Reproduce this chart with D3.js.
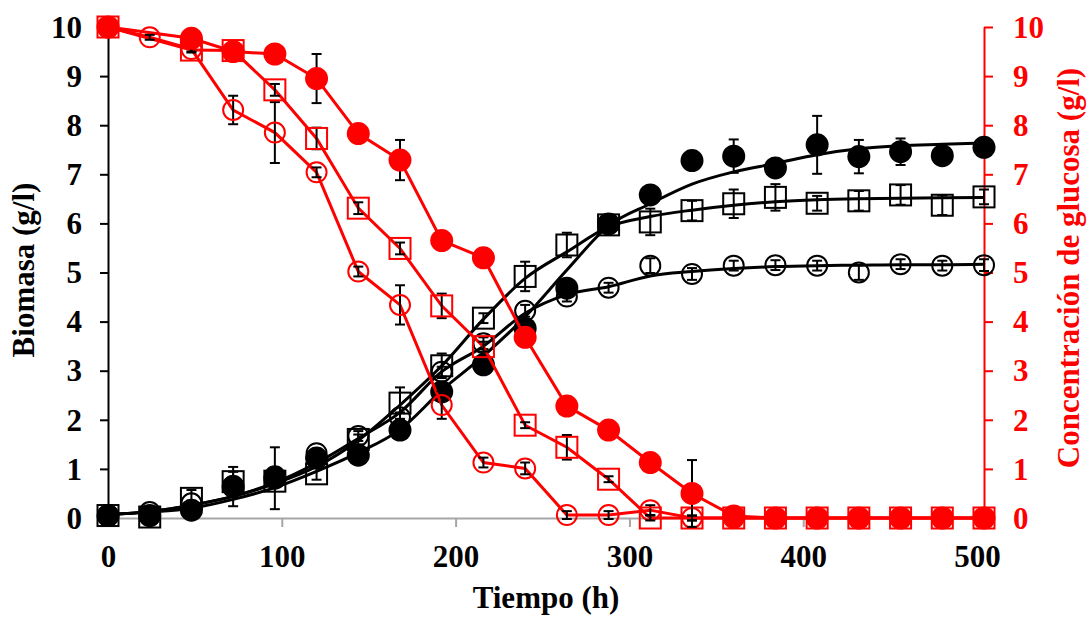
<!DOCTYPE html>
<html><head><meta charset="utf-8">
<script src="https://cdn.jsdelivr.net/npm/d3@7"></script>
<style>
body{margin:0;background:#fff}
svg{display:block}
text{font-family:"Liberation Serif","Times New Roman",serif;font-weight:bold}
</style>
</head><body>
<svg id="c" width="1089" height="617"></svg>
<script>
const times = [0,24,48,72,96,120,144,168,192,216,240,264,288,312,336,360,384,408,432,456,480,504];
const xTicks = [0,100,200,300,400,500];
const yTicks = [0,1,2,3,4,5,6,7,8,9,10];

// Biomass (left axis)
const bioFilled    = [0.05,0.05,0.16,0.64,0.81,1.22,1.28,1.79,2.57,3.12,3.86,4.68,5.99,6.58,7.28,7.37,7.13,7.60,7.36,7.46,7.38,7.55];
const bioFilledErr = [0.02,0.03,0.05,0.40,0.63,0.10,0.08,0.10,0.10,0.10,0.10,0.10,0.05,0.05,0.05,0.34,0.05,0.59,0.34,0.27,0.05,0.10];
const bioSquare    = [0.05,0.02,0.40,0.74,0.75,0.90,1.60,2.34,3.10,4.07,4.92,5.56,5.97,6.03,6.26,6.40,6.53,6.41,6.46,6.58,6.37,6.54];
const bioSquareErr = [0.02,0.02,0.17,0.20,0.10,0.12,0.10,0.32,0.25,0.10,0.30,0.25,0.10,0.27,0.20,0.29,0.27,0.15,0.20,0.20,0.20,0.15];
const bioCircle    = [0.05,0.12,0.30,0.65,0.85,1.32,1.67,2.05,2.98,3.56,4.22,4.51,4.69,5.14,4.97,5.14,5.15,5.14,5.00,5.17,5.14,5.15];
const bioCircleErr = [0.02,0.03,0.05,0.05,0.05,0.05,0.10,0.10,0.10,0.12,0.12,0.10,0.10,0.15,0.12,0.10,0.10,0.10,0.15,0.10,0.10,0.12];

// Fitted biomass curves
const fitFilled = [0.07,0.12,0.20,0.38,0.62,0.95,1.33,1.80,2.60,3.30,4.10,5.05,5.95,6.40,6.80,7.05,7.22,7.40,7.52,7.58,7.61,7.64];
const fitSquare = [0.07,0.13,0.26,0.44,0.70,1.05,1.58,2.30,3.10,4.05,4.88,5.42,5.93,6.14,6.27,6.37,6.44,6.48,6.50,6.51,6.52,6.53];
const fitCircle = [0.07,0.13,0.26,0.44,0.72,1.12,1.62,2.15,2.98,3.50,4.17,4.55,4.71,4.93,5.02,5.08,5.12,5.14,5.15,5.16,5.16,5.17];

// Glucose (right axis)
const gluFilled    = [10,null,9.77,9.50,9.45,8.95,7.83,7.29,5.65,5.30,3.68,2.28,1.79,1.13,0.50,0.04,0,0,0,0,0,0];
const gluFilledErr = [0,0,0.05,0.05,0.05,0.50,0.05,0.41,0.05,0.05,0.05,0.05,0.05,0.05,0.68,0,0,0,0,0,0,0];
const gluSquare    = [10,null,9.53,9.52,8.72,7.73,6.31,5.49,4.32,3.49,1.89,1.44,0.79,0,0,0,0,0,0,0,0,0];
const gluSquareErr = [0,0,0.05,0.05,0.12,0.22,0.12,0.12,0.25,0.10,0.06,0.25,0.06,0.05,0.05,0,0,0,0,0,0,0];
const gluCircle    = [10,9.79,9.55,8.31,7.85,7.04,5.02,4.34,2.30,1.13,1.01,0.06,0.06,0.16,0,0,0,0,0,0,0,0];
const gluCircleErr = [0,0.05,0.05,0.29,0.62,0.10,0.10,0.40,0.28,0.10,0.12,0.08,0.08,0.10,0.05,0,0,0,0,0,0,0];

const svg = d3.select("#c");
const x = d3.scaleLinear().domain([0,504]).range([108,984]);
const yL = d3.scaleLinear().domain([0,10]).range([518,27]);
const yR = d3.scaleLinear().domain([0,10]).range([518,27]);
const RED = "#ff0000";
const FS = 31;

// x axis
const xa = svg.append("g").attr("transform","translate(0,518)")
  .call(d3.axisBottom(x).tickValues(xTicks).tickSize(9).tickFormat(d3.format("d")));
xa.select(".domain").attr("stroke","#a6a6a6").attr("stroke-width",2);
xa.selectAll(".tick line").attr("stroke","#a6a6a6").attr("stroke-width",2);
xa.selectAll(".tick text").attr("fill","#000").attr("font-size",FS).attr("y",49).attr("dy",0)
  .attr("font-family","Liberation Serif").attr("font-weight","bold");

// left axis
const la = svg.append("g").attr("transform","translate(108,0)")
  .call(d3.axisLeft(yL).tickValues(yTicks).tickSize(8).tickPadding(18).tickSizeOuter(0));
la.select(".domain").attr("stroke","#000").attr("stroke-width",2);
la.selectAll(".tick line").attr("stroke","#000").attr("stroke-width",2);
la.selectAll(".tick text").attr("fill","#000").attr("font-size",FS).attr("dy","0.33em")
  .attr("font-family","Liberation Serif").attr("font-weight","bold");

// right axis
const ra = svg.append("g").attr("transform","translate(984,0)")
  .call(d3.axisRight(yR).tickValues(yTicks).tickSize(9).tickPadding(20).tickSizeOuter(0));
ra.select(".domain").attr("stroke",RED).attr("stroke-width",2);
ra.selectAll(".tick line").attr("stroke",RED).attr("stroke-width",2);
ra.selectAll(".tick text").attr("fill",RED).attr("font-size",FS).attr("dy","0.33em")
  .attr("font-family","Liberation Serif").attr("font-weight","bold");

// titles
svg.append("text").attr("x",546).attr("y",608).attr("text-anchor","middle")
  .attr("font-size",FS).attr("fill","#000").text("Tiempo (h)");
svg.append("text").attr("transform","translate(34,270) rotate(-90)").attr("text-anchor","middle")
  .attr("font-size",FS).attr("fill","#000").text("Biomasa (g/l)");
svg.append("text").attr("transform","translate(1079,268) rotate(-90)").attr("text-anchor","middle")
  .attr("font-size",FS).attr("fill",RED).text("Concentración de glucosa (g/l)");

function pts(vals, errs){
  return times.map((t,i)=>({t, v:vals[i], e:errs?errs[i]:0})).filter(d=>d.v!==null);
}

// fitted curves
const fitLine = d3.line().x(d=>x(d.t)).y(d=>yL(d.v)).curve(d3.curveMonotoneX);
[fitFilled, fitSquare, fitCircle].forEach(f=>{
  svg.append("path").datum(pts(f)).attr("d",fitLine)
    .attr("fill","none").attr("stroke","#000").attr("stroke-width",3);
});

function errorBars(data, y){
  const g = svg.append("g").attr("stroke","#000").attr("stroke-width",2);
  data.filter(d=>d.e>0).forEach(d=>{
    const cx = x(d.t), y1 = y(d.v+d.e), y2 = y(d.v-d.e);
    g.append("line").attr("x1",cx).attr("x2",cx).attr("y1",y1).attr("y2",y2);
    g.append("line").attr("x1",cx-5).attr("x2",cx+5).attr("y1",y1).attr("y2",y1);
    g.append("line").attr("x1",cx-5).attr("x2",cx+5).attr("y1",y2).attr("y2",y2);
  });
}
function squares(data, y, color){
  errorBars(data, y);
  svg.append("g").selectAll("rect").data(data).join("rect")
    .attr("x",d=>x(d.t)-10.5).attr("y",d=>y(d.v)-10.5).attr("width",21).attr("height",21)
    .attr("fill","none").attr("stroke",color).attr("stroke-width",2);
}
function openCircles(data, y, color){
  errorBars(data, y);
  svg.append("g").selectAll("circle").data(data).join("circle")
    .attr("cx",d=>x(d.t)).attr("cy",d=>y(d.v)).attr("r",10)
    .attr("fill","none").attr("stroke",color).attr("stroke-width",2);
}
function filledCircles(data, y, color){
  errorBars(data, y);
  svg.append("g").selectAll("circle").data(data).join("circle")
    .attr("cx",d=>x(d.t)).attr("cy",d=>y(d.v)).attr("r",11.5)
    .attr("fill",color).attr("stroke","none");
}

// biomass markers
squares(pts(bioSquare,bioSquareErr), yL, "#000");
openCircles(pts(bioCircle,bioCircleErr), yL, "#000");
filledCircles(pts(bioFilled,bioFilledErr), yL, "#000");

// glucose lines + markers
const gl = d3.line().x(d=>x(d.t)).y(d=>yR(d.v));
[gluCircle, gluSquare, gluFilled].forEach(s=>{
  svg.append("path").datum(pts(s)).attr("d",gl)
    .attr("fill","none").attr("stroke",RED).attr("stroke-width",3);
});
openCircles(pts(gluCircle,gluCircleErr), yR, RED);
squares(pts(gluSquare,gluSquareErr), yR, RED);
filledCircles(pts(gluFilled,gluFilledErr), yR, RED);
</script>
</body></html>
